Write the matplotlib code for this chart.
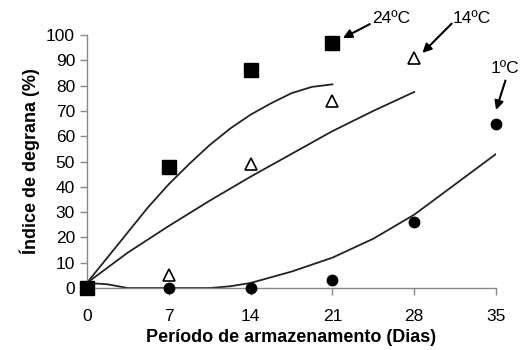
import matplotlib
matplotlib.use("Agg")
import matplotlib.pyplot as plt

plt.rcParams['font.family'] = ['Liberation Sans', 'DejaVu Sans']

# observed points
days = [0, 7, 14, 21, 28, 35]
t24_days = [0, 7, 14, 21]
t24_vals = [0, 48, 86, 97]
t14_days = [0, 7, 14, 21, 28]
t14_vals = [0, 5, 49, 74, 91]
t1_days = [0, 7, 14, 21, 28, 35]
t1_vals = [0, 0, 0, 3, 26, 65]

# fitted trend lines
fit24_x = [0, 1.75, 3.5, 5.25, 7, 8.75, 10.5, 12.25, 14, 15.75, 17.5, 19.25, 21]
fit24_y = [2, 12, 22, 32, 41, 49, 56.5, 63, 68.5, 73, 77, 79.5, 80.5]
fit14_x = [0, 3.5, 7, 10.5, 14, 17.5, 21, 24.5, 28]
fit14_y = [2, 14, 24.5, 34.5, 44, 53, 62, 70, 77.5]
fit1_x = [0, 1.75, 3.5, 7, 10.5, 12.25, 14, 17.5, 21, 24.5, 28, 31.5, 35]
fit1_y = [2, 1.5, 0, 0, 0, 0.7, 2, 6.5, 12, 19.5, 29, 41, 53]

fig = plt.figure(figsize=(5.2, 3.5), dpi=100)
ax = fig.add_axes([0.167, 0.177, 0.787, 0.723])

ax.plot(fit24_x, fit24_y, color='#222222', lw=1.3)
ax.plot(fit14_x, fit14_y, color='#222222', lw=1.3)
ax.plot(fit1_x, fit1_y, color='#222222', lw=1.3)

ax.plot(t1_days, t1_vals, 'o', color='black', ms=7.5, clip_on=False, zorder=3)
ax.plot(t14_days, t14_vals, '^', mfc='white', mec='black', mew=1.2, ms=8,
        clip_on=False, zorder=3)
ax.plot(t24_days, t24_vals, 's', color='black', ms=9.5, clip_on=False, zorder=4)

ax.set_xlim(0, 35)
ax.set_ylim(0, 100)
ax.set_xticks(days)
ax.set_yticks(range(0, 101, 10))
for s in ['top', 'right']:
    ax.spines[s].set_visible(False)
for s in ['left', 'bottom']:
    ax.spines[s].set_color('#888888')
    ax.spines[s].set_linewidth(1.0)
ax.tick_params(colors='#888888', labelcolor='black', labelsize=12.5,
               length=5, width=1.0)
ax.tick_params(axis='x', pad=10)

ax.set_xlabel('Período de armazenamento (Dias)', fontsize=13, fontweight='bold')
ax.set_ylabel('Índice de degrana (%)', fontsize=13, fontweight='bold', labelpad=4)

# temperature labels with arrows
arrow = dict(arrowstyle='-|>', color='black', lw=1.5, mutation_scale=13,
             shrinkA=0, shrinkB=0)
ax.annotate('', xy=(21.9, 98.8), xytext=(24.2, 104.3), arrowprops=arrow,
            annotation_clip=False)
ax.text(24.4, 106.7, '24ºC', fontsize=12.5, ha='left', va='center', clip_on=False)
ax.annotate('', xy=(28.7, 92.9), xytext=(31.2, 104.5), arrowprops=arrow,
            annotation_clip=False)
ax.text(31.3, 106.7, '14ºC', fontsize=12.5, ha='left', va='center', clip_on=False)
ax.annotate('', xy=(35.0, 70.4), xytext=(35.8, 82.0), arrowprops=arrow,
            annotation_clip=False)
ax.text(35.8, 86.6, '1ºC', fontsize=12.5, ha='center', va='center', clip_on=False)

fig.savefig('out.png', dpi=100)
